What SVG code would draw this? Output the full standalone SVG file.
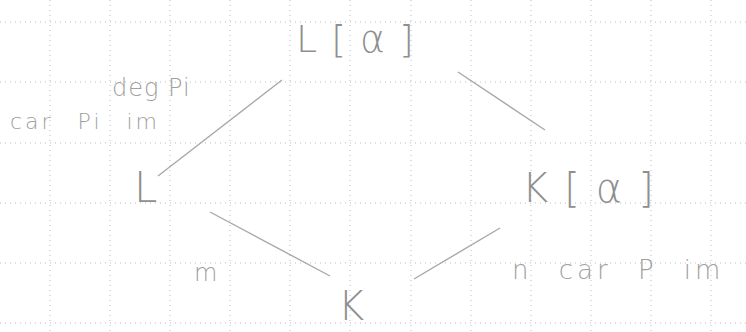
<svg xmlns="http://www.w3.org/2000/svg" width="746" height="332" viewBox="0 0 746 332">
<defs>
<style>
.grid line{stroke:#bdbdbd;stroke-width:1;stroke-dasharray:1 4}
.t{font-family:"DejaVu Sans",sans-serif;fill:#8f8f8f;font-weight:200}
.lbl{font-family:"DejaVu Sans",sans-serif;fill:#a0a0a0;font-weight:200}
.edge{stroke:#a8a8a8;stroke-width:1.4;fill:none}
</style>
</defs>
<rect width="746" height="332" fill="#ffffff"/>
<g class="grid">
<line x1="50" y1="0" x2="50" y2="332"/>
<line x1="110" y1="0" x2="110" y2="332"/>
<line x1="170" y1="0" x2="170" y2="332"/>
<line x1="230" y1="0" x2="230" y2="332"/>
<line x1="290" y1="0" x2="290" y2="332"/>
<line x1="350" y1="0" x2="350" y2="332"/>
<line x1="411" y1="0" x2="411" y2="332"/>
<line x1="471" y1="0" x2="471" y2="332"/>
<line x1="531" y1="0" x2="531" y2="332"/>
<line x1="591" y1="0" x2="591" y2="332"/>
<line x1="651" y1="0" x2="651" y2="332"/>
<line x1="711" y1="0" x2="711" y2="332"/>
<line x1="0" y1="22" x2="746" y2="22"/>
<line x1="0" y1="82" x2="746" y2="82"/>
<line x1="0" y1="143" x2="746" y2="143"/>
<line x1="0" y1="203" x2="746" y2="203"/>
<line x1="0" y1="263" x2="746" y2="263"/>
<line x1="0" y1="323" x2="746" y2="323"/>
</g>
<g id="connectors">
<line class="edge" x1="282" y1="80" x2="158" y2="176"/>
<line class="edge" x1="458" y1="72" x2="545" y2="130"/>
<line class="edge" x1="210" y1="212" x2="330" y2="276"/>
<line class="edge" x1="500" y1="228" x2="414" y2="279"/>
</g>
<g id="n-La">
<text class="t" x="296" y="52" font-size="38" letter-spacing="14">L[α]</text>
</g>
<g id="n-L">
<text class="t" x="134" y="202" font-size="42">L</text>
</g>
<g id="n-Ka">
<text class="t" x="522" y="202" font-size="40" letter-spacing="16">K[α]</text>
</g>
<g id="n-K">
<text class="t" x="338" y="320" font-size="40">K</text>
</g>
<g id="labels">
<text class="lbl" x="112" y="96" font-size="24" letter-spacing="1">deg Pi</text>
<text class="lbl" x="10" y="129" font-size="22" letter-spacing="3" word-spacing="14">car Pi im</text>
<text class="lbl" x="194" y="281" font-size="24">m</text>
<text class="lbl" x="512" y="279" font-size="26" letter-spacing="4" word-spacing="14">n car P im</text>
</g>
</svg>
